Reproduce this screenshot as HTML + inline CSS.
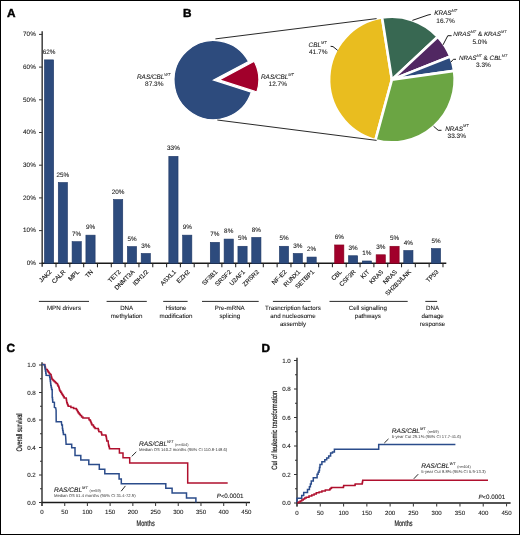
<!DOCTYPE html>
<html><head><meta charset="utf-8"><style>
html,body{margin:0;padding:0;background:#fff;}
.fig{position:relative;width:520px;height:535px;overflow:hidden;background:#fff;}
.fig svg{position:absolute;left:0;top:0;will-change:transform;}
.frame{position:absolute;left:0;top:0;width:518px;height:533px;border:1px solid #000;}
text{font-family:"Liberation Sans", sans-serif;stroke:#222;stroke-width:0.08px;text-rendering:geometricPrecision;}
text.s{stroke:none;}
text.h{stroke:#222;stroke-width:0.2px;}
</style></head><body>
<div class="fig">
<svg width="520" height="535" viewBox="0 0 520 535" font-family='"Liberation Sans", sans-serif'>
<text x="6.9" y="16.7" font-size="11.8" font-weight="bold" fill="#000" style="stroke:#000;stroke-width:0.45px">A</text>
<text x="183.1" y="16.6" font-size="11.8" font-weight="bold" fill="#000" style="stroke:#000;stroke-width:0.45px">B</text>
<text x="6.5" y="351.8" font-size="11.8" font-weight="bold" fill="#000" style="stroke:#000;stroke-width:0.45px">C</text>
<text x="261.6" y="352.0" font-size="11.8" font-weight="bold" fill="#000" style="stroke:#000;stroke-width:0.45px">D</text>
<line x1="42.2" y1="31.2" x2="42.2" y2="266.8" stroke="#4a4a4a" stroke-width="1.6"/>
<line x1="41.6" y1="263.3" x2="446.3" y2="263.3" stroke="#1a1a1a" stroke-width="1.4"/>
<line x1="39" y1="263.30" x2="42.2" y2="263.30" stroke="#333" stroke-width="1"/>
<text x="35.80" y="265.00" font-size="6.35" text-anchor="end" fill="#151515" >0%</text>
<line x1="39" y1="230.60" x2="42.2" y2="230.60" stroke="#333" stroke-width="1"/>
<text x="35.80" y="232.30" font-size="6.35" text-anchor="end" fill="#151515" >10%</text>
<line x1="39" y1="197.90" x2="42.2" y2="197.90" stroke="#333" stroke-width="1"/>
<text x="35.80" y="199.60" font-size="6.35" text-anchor="end" fill="#151515" >20%</text>
<line x1="39" y1="165.20" x2="42.2" y2="165.20" stroke="#333" stroke-width="1"/>
<text x="35.80" y="166.90" font-size="6.35" text-anchor="end" fill="#151515" >30%</text>
<line x1="39" y1="132.50" x2="42.2" y2="132.50" stroke="#333" stroke-width="1"/>
<text x="35.80" y="134.20" font-size="6.35" text-anchor="end" fill="#151515" >40%</text>
<line x1="39" y1="99.80" x2="42.2" y2="99.80" stroke="#333" stroke-width="1"/>
<text x="35.80" y="101.50" font-size="6.35" text-anchor="end" fill="#151515" >50%</text>
<line x1="39" y1="67.10" x2="42.2" y2="67.10" stroke="#333" stroke-width="1"/>
<text x="35.80" y="68.80" font-size="6.35" text-anchor="end" fill="#151515" >60%</text>
<line x1="39" y1="34.40" x2="42.2" y2="34.40" stroke="#333" stroke-width="1"/>
<text x="35.80" y="36.10" font-size="6.35" text-anchor="end" fill="#151515" >70%</text>
<line x1="56.02" y1="263.3" x2="56.02" y2="267.3" stroke="#2a2a2a" stroke-width="1.1"/>
<line x1="69.84" y1="263.3" x2="69.84" y2="267.3" stroke="#2a2a2a" stroke-width="1.1"/>
<line x1="83.66" y1="263.3" x2="83.66" y2="267.3" stroke="#2a2a2a" stroke-width="1.1"/>
<line x1="97.48" y1="263.3" x2="97.48" y2="267.3" stroke="#2a2a2a" stroke-width="1.1"/>
<line x1="111.30" y1="263.3" x2="111.30" y2="267.3" stroke="#2a2a2a" stroke-width="1.1"/>
<line x1="125.12" y1="263.3" x2="125.12" y2="267.3" stroke="#2a2a2a" stroke-width="1.1"/>
<line x1="138.94" y1="263.3" x2="138.94" y2="267.3" stroke="#2a2a2a" stroke-width="1.1"/>
<line x1="152.76" y1="263.3" x2="152.76" y2="267.3" stroke="#2a2a2a" stroke-width="1.1"/>
<line x1="166.58" y1="263.3" x2="166.58" y2="267.3" stroke="#2a2a2a" stroke-width="1.1"/>
<line x1="180.40" y1="263.3" x2="180.40" y2="267.3" stroke="#2a2a2a" stroke-width="1.1"/>
<line x1="194.22" y1="263.3" x2="194.22" y2="267.3" stroke="#2a2a2a" stroke-width="1.1"/>
<line x1="208.04" y1="263.3" x2="208.04" y2="267.3" stroke="#2a2a2a" stroke-width="1.1"/>
<line x1="221.86" y1="263.3" x2="221.86" y2="267.3" stroke="#2a2a2a" stroke-width="1.1"/>
<line x1="235.68" y1="263.3" x2="235.68" y2="267.3" stroke="#2a2a2a" stroke-width="1.1"/>
<line x1="249.50" y1="263.3" x2="249.50" y2="267.3" stroke="#2a2a2a" stroke-width="1.1"/>
<line x1="263.32" y1="263.3" x2="263.32" y2="267.3" stroke="#2a2a2a" stroke-width="1.1"/>
<line x1="277.14" y1="263.3" x2="277.14" y2="267.3" stroke="#2a2a2a" stroke-width="1.1"/>
<line x1="290.96" y1="263.3" x2="290.96" y2="267.3" stroke="#2a2a2a" stroke-width="1.1"/>
<line x1="304.78" y1="263.3" x2="304.78" y2="267.3" stroke="#2a2a2a" stroke-width="1.1"/>
<line x1="318.60" y1="263.3" x2="318.60" y2="267.3" stroke="#2a2a2a" stroke-width="1.1"/>
<line x1="332.42" y1="263.3" x2="332.42" y2="267.3" stroke="#2a2a2a" stroke-width="1.1"/>
<line x1="346.24" y1="263.3" x2="346.24" y2="267.3" stroke="#2a2a2a" stroke-width="1.1"/>
<line x1="360.06" y1="263.3" x2="360.06" y2="267.3" stroke="#2a2a2a" stroke-width="1.1"/>
<line x1="373.88" y1="263.3" x2="373.88" y2="267.3" stroke="#2a2a2a" stroke-width="1.1"/>
<line x1="387.70" y1="263.3" x2="387.70" y2="267.3" stroke="#2a2a2a" stroke-width="1.1"/>
<line x1="401.52" y1="263.3" x2="401.52" y2="267.3" stroke="#2a2a2a" stroke-width="1.1"/>
<line x1="415.34" y1="263.3" x2="415.34" y2="267.3" stroke="#2a2a2a" stroke-width="1.1"/>
<line x1="429.16" y1="263.3" x2="429.16" y2="267.3" stroke="#2a2a2a" stroke-width="1.1"/>
<line x1="442.98" y1="263.3" x2="442.98" y2="267.3" stroke="#2a2a2a" stroke-width="1.1"/>
<rect x="44.45" y="59.88" width="9.20" height="203.42" fill="#2d4b7d" stroke="#1e3866" stroke-width="0.6"/>
<text x="49.05" y="53.98" font-size="6.35" text-anchor="middle" fill="#151515" >62%</text>
<text x="0" y="0" font-size="6.2" text-anchor="end" fill="#151515" style="stroke-width:0.14px" transform="translate(52.05,272.30) rotate(-45)">JAK2</text>
<rect x="58.27" y="182.50" width="9.20" height="80.80" fill="#2d4b7d" stroke="#1e3866" stroke-width="0.6"/>
<text x="62.87" y="176.60" font-size="6.35" text-anchor="middle" fill="#151515" >25%</text>
<text x="0" y="0" font-size="6.2" text-anchor="end" fill="#151515" style="stroke-width:0.14px" transform="translate(65.87,272.30) rotate(-45)">CALR</text>
<rect x="72.09" y="241.69" width="9.20" height="21.61" fill="#2d4b7d" stroke="#1e3866" stroke-width="0.6"/>
<text x="76.69" y="235.79" font-size="6.35" text-anchor="middle" fill="#151515" >7%</text>
<text x="0" y="0" font-size="6.2" text-anchor="end" fill="#151515" style="stroke-width:0.14px" transform="translate(79.69,272.30) rotate(-45)">MPL</text>
<rect x="85.91" y="235.15" width="9.20" height="28.15" fill="#2d4b7d" stroke="#1e3866" stroke-width="0.6"/>
<text x="90.51" y="229.25" font-size="6.35" text-anchor="middle" fill="#151515" >9%</text>
<text x="0" y="0" font-size="6.2" text-anchor="end" fill="#151515" style="stroke-width:0.14px" transform="translate(93.51,272.30) rotate(-45)">TN</text>
<rect x="113.55" y="199.51" width="9.20" height="63.79" fill="#2d4b7d" stroke="#1e3866" stroke-width="0.6"/>
<text x="118.15" y="193.61" font-size="6.35" text-anchor="middle" fill="#151515" >20%</text>
<text x="0" y="0" font-size="6.2" text-anchor="end" fill="#151515" style="stroke-width:0.14px" transform="translate(121.15,272.30) rotate(-45)">TET2</text>
<rect x="127.37" y="246.60" width="9.20" height="16.70" fill="#2d4b7d" stroke="#1e3866" stroke-width="0.6"/>
<text x="131.97" y="240.70" font-size="6.35" text-anchor="middle" fill="#151515" >5%</text>
<text x="0" y="0" font-size="6.2" text-anchor="end" fill="#151515" style="stroke-width:0.14px" transform="translate(134.97,272.30) rotate(-45)">DNMT3A</text>
<rect x="141.19" y="253.46" width="9.20" height="9.84" fill="#2d4b7d" stroke="#1e3866" stroke-width="0.6"/>
<text x="145.79" y="247.56" font-size="6.35" text-anchor="middle" fill="#151515" >3%</text>
<text x="0" y="0" font-size="6.2" text-anchor="end" fill="#151515" style="stroke-width:0.14px" transform="translate(148.79,272.30) rotate(-45)">IDH1/2</text>
<rect x="168.83" y="156.34" width="9.20" height="106.96" fill="#2d4b7d" stroke="#1e3866" stroke-width="0.6"/>
<text x="173.43" y="150.44" font-size="6.35" text-anchor="middle" fill="#151515" >33%</text>
<text x="0" y="0" font-size="6.2" text-anchor="end" fill="#151515" style="stroke-width:0.14px" transform="translate(176.43,272.30) rotate(-45)">ASXL1</text>
<rect x="182.65" y="235.15" width="9.20" height="28.15" fill="#2d4b7d" stroke="#1e3866" stroke-width="0.6"/>
<text x="187.25" y="229.25" font-size="6.35" text-anchor="middle" fill="#151515" >9%</text>
<text x="0" y="0" font-size="6.2" text-anchor="end" fill="#151515" style="stroke-width:0.14px" transform="translate(190.25,272.30) rotate(-45)">EZH2</text>
<rect x="210.29" y="242.35" width="9.20" height="20.95" fill="#2d4b7d" stroke="#1e3866" stroke-width="0.6"/>
<text x="214.89" y="236.45" font-size="6.35" text-anchor="middle" fill="#151515" >7%</text>
<text x="0" y="0" font-size="6.2" text-anchor="end" fill="#151515" style="stroke-width:0.14px" transform="translate(217.89,272.30) rotate(-45)">SF3B1</text>
<rect x="224.11" y="239.08" width="9.20" height="24.23" fill="#2d4b7d" stroke="#1e3866" stroke-width="0.6"/>
<text x="228.71" y="233.18" font-size="6.35" text-anchor="middle" fill="#151515" >8%</text>
<text x="0" y="0" font-size="6.2" text-anchor="end" fill="#151515" style="stroke-width:0.14px" transform="translate(231.71,272.30) rotate(-45)">SRSF2</text>
<rect x="237.93" y="246.27" width="9.20" height="17.03" fill="#2d4b7d" stroke="#1e3866" stroke-width="0.6"/>
<text x="242.53" y="240.37" font-size="6.35" text-anchor="middle" fill="#151515" >5%</text>
<text x="0" y="0" font-size="6.2" text-anchor="end" fill="#151515" style="stroke-width:0.14px" transform="translate(245.53,272.30) rotate(-45)">U2AF1</text>
<rect x="251.75" y="237.44" width="9.20" height="25.86" fill="#2d4b7d" stroke="#1e3866" stroke-width="0.6"/>
<text x="256.35" y="231.54" font-size="6.35" text-anchor="middle" fill="#151515" >8%</text>
<text x="0" y="0" font-size="6.2" text-anchor="end" fill="#151515" style="stroke-width:0.14px" transform="translate(259.35,272.30) rotate(-45)">ZRSR2</text>
<rect x="279.39" y="246.27" width="9.20" height="17.03" fill="#2d4b7d" stroke="#1e3866" stroke-width="0.6"/>
<text x="283.99" y="240.37" font-size="6.35" text-anchor="middle" fill="#151515" >5%</text>
<text x="0" y="0" font-size="6.2" text-anchor="end" fill="#151515" style="stroke-width:0.14px" transform="translate(286.99,272.30) rotate(-45)">NF-E2</text>
<rect x="293.21" y="253.46" width="9.20" height="9.84" fill="#2d4b7d" stroke="#1e3866" stroke-width="0.6"/>
<text x="297.81" y="247.56" font-size="6.35" text-anchor="middle" fill="#151515" >3%</text>
<text x="0" y="0" font-size="6.2" text-anchor="end" fill="#151515" style="stroke-width:0.14px" transform="translate(300.81,272.30) rotate(-45)">RUNX1</text>
<rect x="307.03" y="257.06" width="9.20" height="6.24" fill="#2d4b7d" stroke="#1e3866" stroke-width="0.6"/>
<text x="311.63" y="251.16" font-size="6.35" text-anchor="middle" fill="#151515" >2%</text>
<text x="0" y="0" font-size="6.2" text-anchor="end" fill="#151515" style="stroke-width:0.14px" transform="translate(314.63,272.30) rotate(-45)">SETBP1</text>
<rect x="334.67" y="244.96" width="9.20" height="18.34" fill="#a1002b" stroke="#85001f" stroke-width="0.6"/>
<text x="339.27" y="239.06" font-size="6.35" text-anchor="middle" fill="#151515" >6%</text>
<text x="0" y="0" font-size="6.2" text-anchor="end" fill="#151515" style="stroke-width:0.14px" transform="translate(342.27,272.30) rotate(-45)">CBL</text>
<rect x="348.49" y="255.75" width="9.20" height="7.55" fill="#2d4b7d" stroke="#1e3866" stroke-width="0.6"/>
<text x="353.09" y="249.85" font-size="6.35" text-anchor="middle" fill="#151515" >3%</text>
<text x="0" y="0" font-size="6.2" text-anchor="end" fill="#151515" style="stroke-width:0.14px" transform="translate(356.09,272.30) rotate(-45)">CSF3R</text>
<rect x="362.31" y="260.98" width="9.20" height="2.32" fill="#2d4b7d" stroke="#1e3866" stroke-width="0.6"/>
<text x="366.91" y="255.08" font-size="6.35" text-anchor="middle" fill="#151515" >1%</text>
<text x="0" y="0" font-size="6.2" text-anchor="end" fill="#151515" style="stroke-width:0.14px" transform="translate(369.91,272.30) rotate(-45)">KIT</text>
<rect x="376.13" y="254.77" width="9.20" height="8.53" fill="#a1002b" stroke="#85001f" stroke-width="0.6"/>
<text x="380.73" y="248.87" font-size="6.35" text-anchor="middle" fill="#151515" >3%</text>
<text x="0" y="0" font-size="6.2" text-anchor="end" fill="#151515" style="stroke-width:0.14px" transform="translate(383.73,272.30) rotate(-45)">KRAS</text>
<rect x="389.95" y="246.27" width="9.20" height="17.03" fill="#a1002b" stroke="#85001f" stroke-width="0.6"/>
<text x="394.55" y="240.37" font-size="6.35" text-anchor="middle" fill="#151515" >5%</text>
<text x="0" y="0" font-size="6.2" text-anchor="end" fill="#151515" style="stroke-width:0.14px" transform="translate(397.55,272.30) rotate(-45)">NRAS</text>
<rect x="403.77" y="250.52" width="9.20" height="12.78" fill="#2d4b7d" stroke="#1e3866" stroke-width="0.6"/>
<text x="408.37" y="244.62" font-size="6.35" text-anchor="middle" fill="#151515" >4%</text>
<text x="0" y="0" font-size="6.2" text-anchor="end" fill="#151515" style="stroke-width:0.14px" transform="translate(411.37,272.30) rotate(-45)">SH2B3/LNK</text>
<rect x="431.41" y="248.56" width="9.20" height="14.74" fill="#2d4b7d" stroke="#1e3866" stroke-width="0.6"/>
<text x="436.01" y="242.66" font-size="6.35" text-anchor="middle" fill="#151515" >5%</text>
<text x="0" y="0" font-size="6.2" text-anchor="end" fill="#151515" style="stroke-width:0.14px" transform="translate(439.01,272.30) rotate(-45)">TP53</text>
<line x1="38.9" y1="301.4" x2="89.0" y2="301.4" stroke="#111" stroke-width="0.9"/>
<text x="64.00" y="310.00" font-size="6.2" text-anchor="middle" fill="#151515" >MPN drivers</text>
<line x1="106.6" y1="301.4" x2="146.8" y2="301.4" stroke="#111" stroke-width="0.9"/>
<text x="126.70" y="310.00" font-size="6.2" text-anchor="middle" fill="#151515" >DNA</text>
<text x="126.70" y="317.90" font-size="6.2" text-anchor="middle" fill="#151515" >methylation</text>
<line x1="163.2" y1="301.4" x2="187.6" y2="301.4" stroke="#111" stroke-width="0.9"/>
<text x="176.00" y="310.00" font-size="6.2" text-anchor="middle" fill="#151515" >Histone</text>
<text x="176.00" y="317.90" font-size="6.2" text-anchor="middle" fill="#151515" >modification</text>
<line x1="202.0" y1="301.4" x2="258.7" y2="301.4" stroke="#111" stroke-width="0.9"/>
<text x="229.80" y="310.00" font-size="6.2" text-anchor="middle" fill="#151515" >Pre-mRNA</text>
<text x="229.80" y="317.90" font-size="6.2" text-anchor="middle" fill="#151515" >splicing</text>
<line x1="272.9" y1="301.4" x2="310.6" y2="301.4" stroke="#111" stroke-width="0.9"/>
<text x="293.00" y="310.00" font-size="6.2" text-anchor="middle" fill="#151515" >Trasncription factors</text>
<text x="293.00" y="317.90" font-size="6.2" text-anchor="middle" fill="#151515" >and nucleosome</text>
<text x="293.00" y="325.80" font-size="6.2" text-anchor="middle" fill="#151515" >assembly</text>
<line x1="329.5" y1="301.4" x2="407.7" y2="301.4" stroke="#111" stroke-width="0.9"/>
<text x="367.80" y="310.00" font-size="6.2" text-anchor="middle" fill="#151515" >Cell signalling</text>
<text x="367.80" y="317.90" font-size="6.2" text-anchor="middle" fill="#151515" >pathways</text>
<line x1="425.3" y1="301.4" x2="437.1" y2="301.4" stroke="#111" stroke-width="0.9"/>
<text x="432.60" y="310.00" font-size="6.2" text-anchor="middle" fill="#151515" >DNA</text>
<text x="432.60" y="317.90" font-size="6.2" text-anchor="middle" fill="#151515" >damage</text>
<text x="432.60" y="325.80" font-size="6.2" text-anchor="middle" fill="#151515" >response</text>
<path d="M213.60,80.10 L248.56,61.51 A39.6,39.6 0 1 0 251.30,92.21 Z" fill="#2d4b7d" stroke="#fff" stroke-width="1.2" stroke-linejoin="miter"/>
<path d="M219.20,79.90 L256.90,92.01 A39.6,39.6 0 0 0 254.16,61.31 Z" fill="#a1002b" stroke="#fff" stroke-width="1.2" stroke-linejoin="miter"/>
<path d="M391.90,79.60 L382.08,17.57 A62.8,62.8 0 0 0 375.43,140.20 Z" fill="#e9bd1f" stroke="#fff" stroke-width="2.6" stroke-linejoin="round"/>
<path d="M391.90,79.60 L437.83,36.77 A62.8,62.8 0 0 0 382.08,17.57 Z" fill="#386852" stroke="#fff" stroke-width="2.6" stroke-linejoin="round"/>
<path d="M391.90,79.60 L450.33,56.58 A62.8,62.8 0 0 0 437.83,36.77 Z" fill="#512762" stroke="#fff" stroke-width="2.6" stroke-linejoin="round"/>
<path d="M391.90,79.60 L454.09,70.86 A62.8,62.8 0 0 0 450.33,56.58 Z" fill="#2d4b7d" stroke="#fff" stroke-width="2.6" stroke-linejoin="round"/>
<path d="M391.90,79.60 L375.43,140.20 A62.8,62.8 0 0 0 454.09,70.86 Z" fill="#6ba543" stroke="#fff" stroke-width="2.6" stroke-linejoin="round"/>
<line x1="215.4" y1="38.9" x2="376.6" y2="18.6" stroke="#111" stroke-width="0.9"/>
<line x1="217.3" y1="120.0" x2="376.6" y2="140.4" stroke="#111" stroke-width="0.9"/>
<text x="137.0" y="78.8" font-size="6.4" text-anchor="start" fill="#151515"><tspan font-style="italic">RAS/CBL</tspan><tspan font-size="3.84" font-style="italic" dy="-3.1" style="stroke-width:0.04px">WT</tspan></text>
<text x="154.30" y="86.40" font-size="6.5" text-anchor="middle" fill="#151515" >87.3%</text>
<text x="261.0" y="78.8" font-size="6.4" text-anchor="start" fill="#151515"><tspan font-style="italic">RAS/CBL</tspan><tspan font-size="3.84" font-style="italic" dy="-3.1" style="stroke-width:0.04px">MT</tspan></text>
<text x="277.80" y="86.40" font-size="6.5" text-anchor="middle" fill="#151515" >12.7%</text>
<text x="308.6" y="46.8" font-size="6.4" text-anchor="start" fill="#151515"><tspan font-style="italic">CBL</tspan><tspan font-size="3.84" font-style="italic" dy="-3.1" style="stroke-width:0.04px">MT</tspan></text>
<text x="309.00" y="54.10" font-size="6.5" text-anchor="start" fill="#151515" >41.7%</text>
<text x="434.2" y="15.4" font-size="6.4" text-anchor="start" fill="#151515"><tspan font-style="italic">KRAS</tspan><tspan font-size="3.84" font-style="italic" dy="-3.1" style="stroke-width:0.04px">MT</tspan></text>
<text x="445.50" y="22.60" font-size="6.5" text-anchor="middle" fill="#151515" >16.7%</text>
<text x="453.2" y="36.3" font-size="6.3" fill="#151515"><tspan font-style="italic">NRAS</tspan><tspan font-size="3.8" font-style="italic" dy="-3.1" style="stroke-width:0.04px">MT</tspan><tspan dy="3.1"> &amp; </tspan><tspan font-style="italic">KRAS</tspan><tspan font-size="3.8" font-style="italic" dy="-3.1" style="stroke-width:0.04px">MT</tspan></text>
<text x="479.80" y="43.80" font-size="6.5" text-anchor="middle" fill="#151515" >5.0%</text>
<text x="458.9" y="59.7" font-size="6.3" fill="#151515"><tspan font-style="italic">NRAS</tspan><tspan font-size="3.8" font-style="italic" dy="-3.1" style="stroke-width:0.04px">MT</tspan><tspan dy="3.1"> &amp; </tspan><tspan font-style="italic">CBL</tspan><tspan font-size="3.8" font-style="italic" dy="-3.1" style="stroke-width:0.04px">MT</tspan></text>
<text x="483.50" y="67.40" font-size="6.5" text-anchor="middle" fill="#151515" >3.3%</text>
<text x="445.2" y="130.5" font-size="6.4" text-anchor="start" fill="#151515"><tspan font-style="italic">NRAS</tspan><tspan font-size="3.84" font-style="italic" dy="-3.1" style="stroke-width:0.04px">MT</tspan></text>
<text x="456.80" y="138.20" font-size="6.5" text-anchor="middle" fill="#151515" >33.3%</text>
<polyline points="330.6,46.3 333,46.6 337.6,50.3" stroke="#111" stroke-width="0.95" fill="none"/>
<polyline points="412.4,20.4 428,15.0 430.8,14.4" stroke="#111" stroke-width="0.95" fill="none"/>
<polyline points="451.6,35.7 447.8,35.7 443,44.9" stroke="#111" stroke-width="0.95" fill="none"/>
<polyline points="456.0,59.3 453.4,59.3 450.8,62.2" stroke="#111" stroke-width="0.95" fill="none"/>
<polyline points="433.5,126.2 438.2,130.3 441.5,130.3" stroke="#111" stroke-width="0.95" fill="none"/>
<line x1="42.0" y1="362.20" x2="42.0" y2="505.90" stroke="#444" stroke-width="1.6"/>
<line x1="41.4" y1="502.5" x2="250.0" y2="502.5" stroke="#1a1a1a" stroke-width="1.5"/>
<line x1="39.0" y1="502.50" x2="42.0" y2="502.50" stroke="#333" stroke-width="1"/>
<text x="35.80" y="504.60" font-size="6.2" text-anchor="end" fill="#151515" >0.0</text>
<line x1="40.0" y1="488.75" x2="42.0" y2="488.75" stroke="#333" stroke-width="1"/>
<line x1="39.0" y1="475.00" x2="42.0" y2="475.00" stroke="#333" stroke-width="1"/>
<text x="35.80" y="477.10" font-size="6.2" text-anchor="end" fill="#151515" >0.2</text>
<line x1="40.0" y1="461.25" x2="42.0" y2="461.25" stroke="#333" stroke-width="1"/>
<line x1="39.0" y1="447.50" x2="42.0" y2="447.50" stroke="#333" stroke-width="1"/>
<text x="35.80" y="449.60" font-size="6.2" text-anchor="end" fill="#151515" >0.4</text>
<line x1="40.0" y1="433.75" x2="42.0" y2="433.75" stroke="#333" stroke-width="1"/>
<line x1="39.0" y1="420.00" x2="42.0" y2="420.00" stroke="#333" stroke-width="1"/>
<text x="35.80" y="422.10" font-size="6.2" text-anchor="end" fill="#151515" >0.6</text>
<line x1="40.0" y1="406.25" x2="42.0" y2="406.25" stroke="#333" stroke-width="1"/>
<line x1="39.0" y1="392.50" x2="42.0" y2="392.50" stroke="#333" stroke-width="1"/>
<text x="35.80" y="394.60" font-size="6.2" text-anchor="end" fill="#151515" >0.8</text>
<line x1="40.0" y1="378.75" x2="42.0" y2="378.75" stroke="#333" stroke-width="1"/>
<line x1="39.0" y1="365.00" x2="42.0" y2="365.00" stroke="#333" stroke-width="1"/>
<text x="35.80" y="367.10" font-size="6.2" text-anchor="end" fill="#151515" >1.0</text>
<line x1="42.00" y1="502.5" x2="42.00" y2="505.9" stroke="#444" stroke-width="1.1"/>
<text x="42.00" y="514.40" font-size="6.1" text-anchor="middle" fill="#151515" >0</text>
<line x1="64.71" y1="502.5" x2="64.71" y2="505.9" stroke="#444" stroke-width="1.1"/>
<text x="64.71" y="514.40" font-size="6.1" text-anchor="middle" fill="#151515" >50</text>
<line x1="87.42" y1="502.5" x2="87.42" y2="505.9" stroke="#444" stroke-width="1.1"/>
<text x="87.42" y="514.40" font-size="6.1" text-anchor="middle" fill="#151515" >100</text>
<line x1="110.13" y1="502.5" x2="110.13" y2="505.9" stroke="#444" stroke-width="1.1"/>
<text x="110.13" y="514.40" font-size="6.1" text-anchor="middle" fill="#151515" >150</text>
<line x1="132.84" y1="502.5" x2="132.84" y2="505.9" stroke="#444" stroke-width="1.1"/>
<text x="132.84" y="514.40" font-size="6.1" text-anchor="middle" fill="#151515" >200</text>
<line x1="155.55" y1="502.5" x2="155.55" y2="505.9" stroke="#444" stroke-width="1.1"/>
<text x="155.55" y="514.40" font-size="6.1" text-anchor="middle" fill="#151515" >250</text>
<line x1="178.26" y1="502.5" x2="178.26" y2="505.9" stroke="#444" stroke-width="1.1"/>
<text x="178.26" y="514.40" font-size="6.1" text-anchor="middle" fill="#151515" >300</text>
<line x1="200.97" y1="502.5" x2="200.97" y2="505.9" stroke="#444" stroke-width="1.1"/>
<text x="200.97" y="514.40" font-size="6.1" text-anchor="middle" fill="#151515" >350</text>
<line x1="223.68" y1="502.5" x2="223.68" y2="505.9" stroke="#444" stroke-width="1.1"/>
<text x="223.68" y="514.40" font-size="6.1" text-anchor="middle" fill="#151515" >400</text>
<line x1="246.39" y1="502.5" x2="246.39" y2="505.9" stroke="#444" stroke-width="1.1"/>
<text x="246.39" y="514.40" font-size="6.1" text-anchor="middle" fill="#151515" >450</text>
<polyline points="42.7,364.6 44.7,364.6 44.7,366.0 45.0,366.0 45.0,367.1 45.4,367.1 45.4,368.3 45.7,368.3 45.7,369.4 47.4,369.4 47.4,371.1 48.3,371.1 48.3,372.2 49.2,372.2 49.2,373.4 50.1,373.4 50.1,374.5 51.1,374.5 51.1,376.2 51.4,376.2 51.4,377.3 51.8,377.3 51.8,378.4 52.1,378.4 52.1,379.5 53.1,379.5 53.1,380.5 54.1,380.5 54.1,381.5 55.2,381.5 55.2,382.6 56.2,382.6 56.2,383.6 57.5,383.6 57.5,384.9 58.1,384.9 58.1,386.2 58.8,386.2 58.8,387.6 59.2,387.6 59.2,388.7 59.5,388.7 59.5,389.9 59.9,389.9 59.9,391.0 60.7,391.0 60.7,392.2 61.5,392.2 61.5,393.4 62.1,393.4 62.1,394.4 62.8,394.4 62.8,395.4 63.5,395.4 63.5,396.8 64.2,396.8 64.2,398.1 66.2,398.1 66.2,399.1 66.4,399.1 66.4,400.3 66.6,400.3 66.6,401.6 66.8,401.6 66.8,402.8 67.3,402.8 67.3,403.9 67.7,403.9 67.7,405.1 68.2,405.1 68.2,406.2 70.9,406.2 70.9,407.5 73.6,407.5 73.6,408.5 76.3,408.5 76.3,409.5 77.0,409.5 77.0,410.6 77.6,410.6 77.6,411.8 78.3,411.8 78.3,412.9 79.3,412.9 79.3,414.2 80.3,414.2 80.3,415.6 81.6,415.6 81.6,417.0 82.9,417.0 82.9,418.0 86.9,418.0 89.0,418.0 89.0,419.7 90.0,419.7 90.0,420.4 90.5,420.4 90.5,421.6 91.0,421.6 91.0,422.8 91.5,422.8 91.5,424.0 92.0,424.0 92.0,425.1 93.4,425.1 93.4,426.5 94.2,426.5 94.2,427.5 95.1,427.5 95.1,428.5 97.8,428.5 98.3,428.5 98.3,430.0 98.8,430.0 98.8,431.5 101.1,431.9 101.4,431.9 101.4,433.4 101.8,433.4 101.8,434.9 105.5,434.9 105.8,434.9 105.8,435.9 106.2,435.9 106.2,436.9 106.4,436.9 106.4,438.2 106.6,438.2 106.6,439.6 106.8,439.6 106.8,440.9 108.2,440.9 108.2,441.6 108.5,445.0 108.8,445.0 108.8,446.3 109.2,446.3 109.2,447.5 109.5,447.5 109.5,448.8 119.4,448.8 119.4,453.0 123.0,453.0 123.0,457.8 129.7,457.8 129.7,463.1 187.7,463.1 187.7,482.9 227.7,482.9" fill="none" stroke="#b0102e" stroke-width="1.5" stroke-linejoin="miter"/>
<polyline points="42.0,364.6 44.4,364.7 44.7,364.7 44.7,366.8 45.1,366.8 45.1,368.9 45.4,368.9 45.4,371.1 45.8,371.1 45.8,373.2 46.1,373.2 46.1,375.3 49.3,375.5 49.7,375.5 49.7,377.5 50.1,377.5 50.1,379.5 50.3,379.5 50.3,381.5 50.6,381.5 50.6,383.6 50.8,383.6 50.8,385.6 51.2,385.6 51.2,387.6 51.6,387.6 51.6,389.6 52.2,389.6 52.2,391.3 52.2,397.4 52.5,397.4 52.5,399.8 52.7,399.8 52.7,402.1 54.4,402.4 54.4,407.5 55.7,407.8 56.1,410.2 56.2,421.7 61.4,421.7 61.7,425.1 62.4,425.1 62.4,428.5 62.7,428.5 62.7,430.5 63.1,430.5 63.1,432.5 63.4,432.5 63.4,434.5 65.4,434.5 65.7,437.2 66.1,444.2 71.7,444.2 71.7,447.7 75.0,447.7 75.0,455.5 80.8,455.5 80.8,459.9 88.8,459.9 88.8,464.6 99.3,464.6 99.3,469.3 104.8,469.3 104.8,473.8 119.1,473.8 119.1,478.9 121.3,478.9 121.3,483.8 165.8,483.8 165.8,488.3 172.1,488.3 172.1,493.1 186.5,493.1 186.5,497.9 195.9,497.9 195.9,502.5" fill="none" stroke="#2b4c8b" stroke-width="1.5" stroke-linejoin="miter"/>
<text x="138.9" y="445.9" font-size="6.6" fill="#151515"><tspan font-style="italic">RAS/CBL</tspan><tspan font-size="4.0" font-style="italic" dy="-3.0" style="stroke-width:0.04px">WT</tspan><tspan class="s" font-size="3.9" dx="1.6" dy="3.0" fill="#333" style="stroke:none">(n=404)</tspan></text>
<text class="s" x="138.90" y="450.90" font-size="4.2" text-anchor="start" fill="#333" >Median OS 140.2 months (95% CI 110.8-148.6)</text>
<text x="53.9" y="491.8" font-size="6.6" fill="#151515"><tspan font-style="italic">RAS/CBL</tspan><tspan font-size="4.0" font-style="italic" dy="-3.0" style="stroke-width:0.04px">MT</tspan><tspan class="s" font-size="3.9" dx="1.6" dy="3.0" fill="#333" style="stroke:none">(n=59)</tspan></text>
<text class="s" x="53.90" y="496.80" font-size="4.2" text-anchor="start" fill="#333" >Median OS 51.4 months (95% CI 31.4-72.9)</text>
<line x1="131.7" y1="456.4" x2="136.3" y2="451.8" stroke="#111" stroke-width="0.9"/>
<line x1="121.2" y1="491.2" x2="125.4" y2="485.9" stroke="#111" stroke-width="0.9"/>
<text x="216.8" y="497.7" font-size="6.3" fill="#151515"><tspan font-style="italic">P</tspan><tspan font-size="5.6">&lt;</tspan>0.0001</text>
<text class="h" x="0" y="0" font-size="8.1" fill="#151515" text-anchor="middle" transform="translate(145.6,525.9) scale(0.68,1)">Months</text>
<text class="h" x="0" y="0" font-size="8.1" fill="#151515" text-anchor="middle" transform="translate(21.6,432.5) rotate(-90) scale(0.69,1)">Overall survival</text>
<line x1="297.0" y1="357.70" x2="297.0" y2="506.40" stroke="#444" stroke-width="1.6"/>
<line x1="296.4" y1="503.0" x2="510.6" y2="503.0" stroke="#1a1a1a" stroke-width="1.5"/>
<line x1="294.0" y1="503.00" x2="297.0" y2="503.00" stroke="#333" stroke-width="1"/>
<text x="290.80" y="505.10" font-size="6.2" text-anchor="end" fill="#151515" >0.0</text>
<line x1="295.0" y1="488.75" x2="297.0" y2="488.75" stroke="#333" stroke-width="1"/>
<line x1="294.0" y1="474.50" x2="297.0" y2="474.50" stroke="#333" stroke-width="1"/>
<text x="290.80" y="476.60" font-size="6.2" text-anchor="end" fill="#151515" >0.2</text>
<line x1="295.0" y1="460.25" x2="297.0" y2="460.25" stroke="#333" stroke-width="1"/>
<line x1="294.0" y1="446.00" x2="297.0" y2="446.00" stroke="#333" stroke-width="1"/>
<text x="290.80" y="448.10" font-size="6.2" text-anchor="end" fill="#151515" >0.4</text>
<line x1="295.0" y1="431.75" x2="297.0" y2="431.75" stroke="#333" stroke-width="1"/>
<line x1="294.0" y1="417.50" x2="297.0" y2="417.50" stroke="#333" stroke-width="1"/>
<text x="290.80" y="419.60" font-size="6.2" text-anchor="end" fill="#151515" >0.6</text>
<line x1="295.0" y1="403.25" x2="297.0" y2="403.25" stroke="#333" stroke-width="1"/>
<line x1="294.0" y1="389.00" x2="297.0" y2="389.00" stroke="#333" stroke-width="1"/>
<text x="290.80" y="391.10" font-size="6.2" text-anchor="end" fill="#151515" >0.8</text>
<line x1="295.0" y1="374.75" x2="297.0" y2="374.75" stroke="#333" stroke-width="1"/>
<line x1="294.0" y1="360.50" x2="297.0" y2="360.50" stroke="#333" stroke-width="1"/>
<text x="290.80" y="362.60" font-size="6.2" text-anchor="end" fill="#151515" >1.0</text>
<line x1="297.00" y1="503.0" x2="297.00" y2="506.4" stroke="#444" stroke-width="1.1"/>
<text x="297.00" y="514.90" font-size="6.1" text-anchor="middle" fill="#151515" >0</text>
<line x1="320.28" y1="503.0" x2="320.28" y2="506.4" stroke="#444" stroke-width="1.1"/>
<text x="320.28" y="514.90" font-size="6.1" text-anchor="middle" fill="#151515" >50</text>
<line x1="343.56" y1="503.0" x2="343.56" y2="506.4" stroke="#444" stroke-width="1.1"/>
<text x="343.56" y="514.90" font-size="6.1" text-anchor="middle" fill="#151515" >100</text>
<line x1="366.84" y1="503.0" x2="366.84" y2="506.4" stroke="#444" stroke-width="1.1"/>
<text x="366.84" y="514.90" font-size="6.1" text-anchor="middle" fill="#151515" >150</text>
<line x1="390.12" y1="503.0" x2="390.12" y2="506.4" stroke="#444" stroke-width="1.1"/>
<text x="390.12" y="514.90" font-size="6.1" text-anchor="middle" fill="#151515" >200</text>
<line x1="413.40" y1="503.0" x2="413.40" y2="506.4" stroke="#444" stroke-width="1.1"/>
<text x="413.40" y="514.90" font-size="6.1" text-anchor="middle" fill="#151515" >250</text>
<line x1="436.68" y1="503.0" x2="436.68" y2="506.4" stroke="#444" stroke-width="1.1"/>
<text x="436.68" y="514.90" font-size="6.1" text-anchor="middle" fill="#151515" >300</text>
<line x1="459.96" y1="503.0" x2="459.96" y2="506.4" stroke="#444" stroke-width="1.1"/>
<text x="459.96" y="514.90" font-size="6.1" text-anchor="middle" fill="#151515" >350</text>
<line x1="483.24" y1="503.0" x2="483.24" y2="506.4" stroke="#444" stroke-width="1.1"/>
<text x="483.24" y="514.90" font-size="6.1" text-anchor="middle" fill="#151515" >400</text>
<line x1="506.52" y1="503.0" x2="506.52" y2="506.4" stroke="#444" stroke-width="1.1"/>
<text x="506.52" y="514.90" font-size="6.1" text-anchor="middle" fill="#151515" >450</text>
<polyline points="297.0,502.6 297.0,498.3 300.8,498.3 301.7,498.3 301.7,495.4 303.7,495.4 303.7,492.5 306.5,492.5 307.5,492.5 307.5,489.6 309.4,489.6 309.4,486.7 310.4,486.7 310.4,483.9 311.3,483.9 311.3,481.0 313.3,481.0 313.3,477.7 316.2,477.7 317.1,477.7 317.1,474.2 318.1,474.2 318.1,472.3 319.0,472.3 319.0,470.4 319.5,470.4 319.5,467.5 320.0,467.5 320.0,464.6 321.9,464.6 321.9,461.7 324.8,461.7 324.8,459.8 326.7,459.8 326.7,457.9 328.7,457.9 328.7,456.0 330.6,456.0 330.6,453.1 332.5,453.1 332.5,452.1 334.4,452.1 334.4,449.2 378.7,449.2 378.7,444.4 455.4,444.4" fill="none" stroke="#2b4c8b" stroke-width="1.5" stroke-linejoin="miter"/>
<polyline points="297.2,502.8 298.7,502.8 298.7,501.9 300.2,501.9 300.2,500.9 301.7,500.9 301.7,500.0 303.2,500.0 303.2,499.1 304.7,499.1 304.7,498.1 306.2,498.1 306.2,497.2 309.0,497.2 309.0,496.1 311.8,496.1 311.8,495.0 314.1,495.0 314.1,493.9 316.3,493.9 316.3,492.7 319.1,492.7 319.1,491.9 321.9,491.9 321.9,491.0 325.3,491.0 325.3,489.9 329.8,489.9 329.8,489.0 330.6,489.0 330.6,488.2 331.5,488.2 331.5,487.5 343.1,487.5 343.4,487.5 343.4,486.6 343.7,486.6 343.7,485.6 354.6,485.6 354.9,485.6 354.9,484.9 355.2,484.9 355.2,484.1 362.1,484.1 362.2,484.1 362.2,483.1 362.4,483.1 362.4,482.1 362.6,482.1 362.6,481.2 362.7,481.2 362.7,480.2 488.0,480.2" fill="none" stroke="#b0102e" stroke-width="1.5" stroke-linejoin="miter"/>
<text x="391.8" y="432.6" font-size="6.6" fill="#151515"><tspan font-style="italic">RAS/CBL</tspan><tspan font-size="4.0" font-style="italic" dy="-3.0" style="stroke-width:0.04px">MT</tspan><tspan class="s" font-size="3.9" dx="1.6" dy="3.0" fill="#333" style="stroke:none">(n=59)</tspan></text>
<text class="s" x="391.80" y="437.60" font-size="4.2" text-anchor="start" fill="#333" >5-year CuI 29.1% (95% CI 17.7-41.6)</text>
<text x="421.2" y="467.6" font-size="6.6" fill="#151515"><tspan font-style="italic">RAS/CBL</tspan><tspan font-size="4.0" font-style="italic" dy="-3.0" style="stroke-width:0.04px">WT</tspan><tspan class="s" font-size="3.9" dx="1.6" dy="3.0" fill="#333" style="stroke:none">(n=404)</tspan></text>
<text class="s" x="421.20" y="472.60" font-size="4.2" text-anchor="start" fill="#333" >5-year CuI 8.8% (95% CI 5.9-13.3)</text>
<line x1="384.3" y1="443" x2="388.5" y2="438.9" stroke="#111" stroke-width="0.9"/>
<line x1="413.8" y1="478.8" x2="418.2" y2="474.2" stroke="#111" stroke-width="0.9"/>
<text x="478.4" y="499.1" font-size="6.3" fill="#151515"><tspan font-style="italic">P</tspan><tspan font-size="5.6">&lt;</tspan>0.0001</text>
<text class="h" x="0" y="0" font-size="8.1" fill="#151515" text-anchor="middle" transform="translate(403.5,525.9) scale(0.68,1)">Months</text>
<text class="h" x="0" y="0" font-size="7.7" fill="#151515" text-anchor="middle" transform="translate(276.6,430.2) rotate(-90) scale(0.757,1)">CuI of leukemic transformation</text>
</svg>
<div class="frame"></div>
</div>
</body></html>
